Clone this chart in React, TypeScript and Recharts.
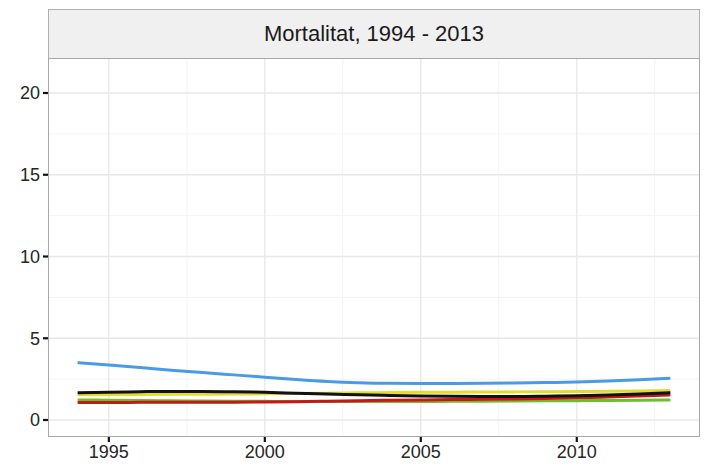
import React from 'react';
import { LineChart, Line, XAxis, YAxis, CartesianGrid } from 'recharts';

const years = [1994, 1995, 1996, 1997, 1998, 1999, 2000, 2001, 2002, 2003, 2004, 2005, 2006, 2007, 2008, 2009, 2010, 2011, 2012, 2013];

const blueValues = [3.5, 3.36, 3.21, 3.05, 2.9, 2.76, 2.62, 2.48, 2.36, 2.28, 2.24, 2.23, 2.23, 2.24, 2.26, 2.29, 2.33, 2.39, 2.46, 2.55];
const blackValues = [1.67, 1.7, 1.73, 1.75, 1.75, 1.73, 1.69, 1.64, 1.59, 1.54, 1.5, 1.47, 1.45, 1.44, 1.44, 1.46, 1.49, 1.53, 1.59, 1.66];
const yellowValues = [1.54, 1.55, 1.56, 1.57, 1.58, 1.59, 1.6, 1.62, 1.64, 1.66, 1.68, 1.69, 1.7, 1.71, 1.72, 1.73, 1.74, 1.76, 1.78, 1.81];
const greenValues = [1.23, 1.21, 1.19, 1.17, 1.16, 1.15, 1.14, 1.13, 1.13, 1.13, 1.13, 1.13, 1.14, 1.15, 1.16, 1.17, 1.18, 1.2, 1.21, 1.23];
const redValues = [1.07, 1.07, 1.08, 1.08, 1.09, 1.09, 1.1, 1.12, 1.15, 1.18, 1.21, 1.23, 1.25, 1.27, 1.29, 1.32, 1.36, 1.41, 1.47, 1.54];

const xTicks = [1995, 2000, 2005, 2010];
const xMinor = [1997.5, 2002.5, 2007.5, 2012.5];
const yTicks = [0, 5, 10, 15, 20];
const yMinor = [2.5, 7.5, 12.5, 17.5];

const title = 'Mortalitat, 1994 - 2013';

const data = years.map((year, i) => ({
  year,
  blue: blueValues[i],
  black: blackValues[i],
  yellow: yellowValues[i],
  green: greenValues[i],
  red: redValues[i],
}));

const font = '"Liberation Sans", Arial, sans-serif';
const tickStyle = { fontSize: 18, fill: '#262626', fontFamily: font };

const App: React.FC = () => {
  return (
    <div style={{ position: 'absolute', left: 0, top: 0, width: 704, height: 467, background: '#ffffff' }}>
      <div
        style={{
          position: 'absolute',
          left: 48,
          top: 9,
          width: 652,
          height: 50,
          boxSizing: 'border-box',
          background: '#f0f0f0',
          border: '1.5px solid #b0b0b0',
          fontFamily: font,
          fontSize: 22,
          color: '#1a1a1a',
          display: 'flex',
          alignItems: 'center',
          justifyContent: 'center',
        }}
      >
        {title}
      </div>
      <LineChart width={704} height={467} data={data} margin={{ top: 59, right: 4, left: 8, bottom: 0 }}>
        <CartesianGrid horizontalValues={yMinor} verticalValues={xMinor} stroke="#f3f3f3" strokeWidth={1} />
        <CartesianGrid horizontalValues={yTicks} verticalValues={xTicks} stroke="#e8e8e8" strokeWidth={1.3} />
        <XAxis
          dataKey="year"
          type="number"
          domain={[1993.05, 2013.95]}
          ticks={xTicks}
          allowDataOverflow
          axisLine={false}
          tickLine={{ stroke: '#111', strokeWidth: 2.2 }}
          tickSize={5}
          tickMargin={3}
          height={30}
          tick={tickStyle}
        />
        <YAxis
          type="number"
          domain={[-1.04, 22.08]}
          ticks={yTicks}
          allowDataOverflow
          axisLine={false}
          tickLine={{ stroke: '#111', strokeWidth: 2.2 }}
          tickSize={5}
          tickMargin={3}
          width={40}
          tick={tickStyle}
        />
        <Line type="monotone" dataKey="blue" stroke="#4a9be6" strokeWidth={3} dot={false} isAnimationActive={false} />
        <Line type="monotone" dataKey="yellow" stroke="#e3dc2c" strokeWidth={3} dot={false} isAnimationActive={false} />
        <Line type="monotone" dataKey="green" stroke="#6cbf2c" strokeWidth={3} dot={false} isAnimationActive={false} />
        <Line type="monotone" dataKey="red" stroke="#c8161a" strokeWidth={3} dot={false} isAnimationActive={false} />
        <Line type="monotone" dataKey="black" stroke="#111111" strokeWidth={3} dot={false} isAnimationActive={false} />
      </LineChart>
      <div
        style={{
          position: 'absolute',
          left: 48,
          top: 58,
          width: 652,
          height: 379,
          boxSizing: 'border-box',
          border: '1.5px solid #a8a8a8',
          pointerEvents: 'none',
        }}
      />
    </div>
  );
};

export default App;
